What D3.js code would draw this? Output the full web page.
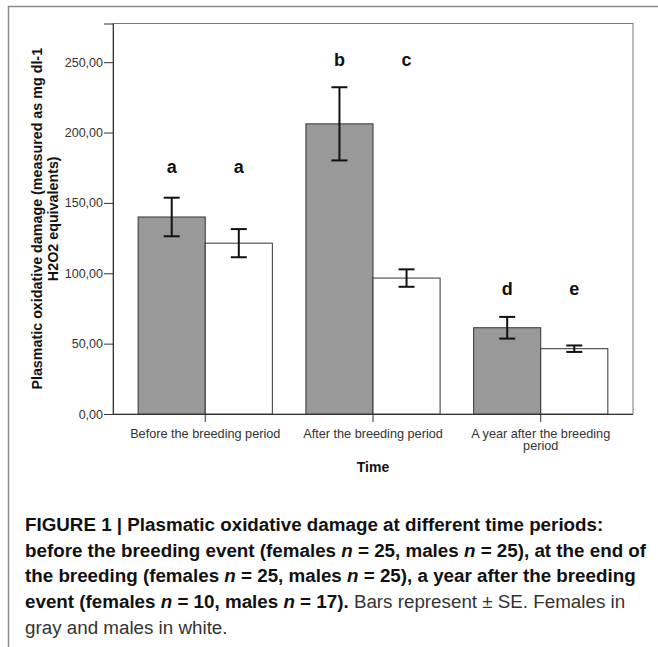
<!DOCTYPE html>
<html>
<head>
<meta charset="utf-8">
<script src="https://cdn.jsdelivr.net/npm/d3@7"></script>
<style>
  body { margin: 0; background: #fff; }
  svg { display: block; }
</style>
</head>
<body>
<script>
// data
var periods = ["Before the breeding period", "After the breeding period", "A year after the breeding period"];
var sexes = ["Females", "Males"];
var femaleMean = [140, 206.2, 61.3];
var femaleSE = [13.7, 26, 7.7];
var maleMean = [121.4, 96.6, 46.4];
var maleSE = [10, 6.2, 2.3];
var femaleLetters = ["a", "b", "d"];
var maleLetters = ["a", "c", "e"];
var letterLevel = [171, 247.4, 84.5];   // height of the letters, in y units
var yTicks = [0, 50, 100, 150, 200, 250];

var W = 658, H = 647;
var svg = d3.select("body").append("svg").attr("width", W).attr("height", H);

// outer figure frame (left + top only, the rest is cut off)
svg.append("path")
  .attr("d", "M8.5," + H + "V6.5H" + W)
  .attr("fill", "none").attr("stroke", "#8a8a8a").attr("stroke-width", 1.5);

var pLeft = 113, pRight = 633, pTop = 23.5, pBottom = 414;

var y = d3.scaleLinear().domain([0, 277.5]).range([pBottom, pTop]);
var x0 = d3.scaleBand().domain(periods).range([pLeft, pRight]).paddingInner(0.2).paddingOuter(0.15);
var x1 = d3.scaleBand().domain(sexes).range([0, x0.bandwidth()]);

// plot box
svg.append("rect")
  .attr("x", pLeft).attr("y", pTop).attr("width", pRight - pLeft).attr("height", pBottom - pTop)
  .attr("fill", "none").attr("stroke", "#777").attr("stroke-width", 1);

var rows = periods.map(function (p, i) {
  return [
    { period: p, sex: "Females", mean: femaleMean[i], se: femaleSE[i], letter: femaleLetters[i], lv: letterLevel[i] },
    { period: p, sex: "Males", mean: maleMean[i], se: maleSE[i], letter: maleLetters[i], lv: letterLevel[i] }
  ];
});
var flat = d3.merge(rows);

var g = svg.append("g");
g.selectAll("rect.bar").data(flat).enter().append("rect")
  .attr("class", "bar")
  .attr("x", function (d) { return x0(d.period) + x1(d.sex); })
  .attr("y", function (d) { return y(d.mean); })
  .attr("width", x1.bandwidth())
  .attr("height", function (d) { return y(0) - y(d.mean); })
  .attr("fill", function (d) { return d.sex == "Females" ? "#999999" : "#ffffff"; })
  .attr("stroke", "#333").attr("stroke-width", 1);

// error bars
var eb = g.selectAll("g.err").data(flat).enter().append("g").attr("class", "err")
  .attr("transform", function (d) { return "translate(" + (x0(d.period) + x1(d.sex) + x1.bandwidth() / 2) + ",0)"; });
eb.append("line")
  .attr("y1", function (d) { return y(d.mean + d.se); })
  .attr("y2", function (d) { return y(d.mean - d.se); });
eb.append("line").attr("x1", -8).attr("x2", 8)
  .attr("y1", function (d) { return y(d.mean + d.se); })
  .attr("y2", function (d) { return y(d.mean + d.se); });
eb.append("line").attr("x1", -8).attr("x2", 8)
  .attr("y1", function (d) { return y(d.mean - d.se); })
  .attr("y2", function (d) { return y(d.mean - d.se); });
eb.selectAll("line").attr("stroke", "#111").attr("stroke-width", 2);

// significance letters
g.selectAll("text.letter").data(flat).enter().append("text")
  .attr("class", "letter")
  .attr("x", function (d) { return x0(d.period) + x1(d.sex) + x1.bandwidth() / 2; })
  .attr("y", function (d) { return y(d.lv); })
  .attr("text-anchor", "middle")
  .style("font-family", "'Liberation Sans', Arial, sans-serif")
  .style("font-weight", "bold").style("font-size", "18px").attr("fill", "#111")
  .text(function (d) { return d.letter; });

// y axis
var yAxis = svg.append("g").attr("transform", "translate(" + pLeft + ",0)")
  .call(d3.axisLeft(y).tickValues(yTicks).tickSize(9).tickPadding(1)
    .tickFormat(function (d) { return d3.format(".2f")(d).replace(".", ","); }));
yAxis.select(".domain").attr("stroke", "#333");
yAxis.selectAll(".tick line").attr("stroke", "#333");
yAxis.selectAll(".tick text")
  .style("font-family", "'Liberation Sans', Arial, sans-serif").style("font-size", "12.5px").attr("fill", "#333");

// x axis
var xAxis = svg.append("g").attr("transform", "translate(0," + pBottom + ")")
  .call(d3.axisBottom(x0).tickSize(8).tickPadding(7).tickSizeOuter(0));
xAxis.select(".domain").attr("stroke", "#333").attr("d", "M" + pLeft + ",0.5H" + pRight);
xAxis.selectAll(".tick line").attr("stroke", "#333");
xAxis.selectAll(".tick text")
  .style("font-family", "'Liberation Sans', Arial, sans-serif").style("font-size", "12.7px").attr("fill", "#333")
  .each(function (d) {
    var t = d3.select(this), words = d.split(" "), line = [], lines = [];
    words.forEach(function (w) {
      var test = line.concat([w]).join(" ");
      if (line.length && test.length > 26) { lines.push(line.join(" ")); line = [w]; }
      else line.push(w);
    });
    lines.push(line.join(" "));
    t.text(null);
    lines.forEach(function (l, i) {
      t.append("tspan").attr("x", 0).attr("dy", i == 0 ? "0.71em" : "0.98em").text(l);
    });
  });

// axis titles
svg.append("text")
  .attr("x", (pLeft + pRight) / 2).attr("y", 472)
  .attr("text-anchor", "middle")
  .style("font-family", "'Liberation Sans', Arial, sans-serif").style("font-weight", "bold").style("font-size", "14px")
  .attr("fill", "#111").text("Time");

var yt = svg.append("text")
  .attr("transform", "translate(0," + ((pTop + pBottom) / 2) + ") rotate(-90)")
  .attr("text-anchor", "middle")
  .style("font-family", "'Liberation Sans', Arial, sans-serif").style("font-weight", "bold").style("font-size", "14.3px")
  .attr("fill", "#111");
yt.append("tspan").attr("x", 0).attr("y", 42).text("Plasmatic oxidative damage (measured as mg dl-1");
yt.append("tspan").attr("x", 0).attr("y", 57.5).text("H2O2 equivalents)");

// caption
var capLines = [
  [["b", "FIGURE 1 | Plasmatic oxidative damage at different time periods:"]],
  [["b", "before the breeding event (females "], ["bi", "n"], ["b", " = 25, males "], ["bi", "n"], ["b", " = 25), at the end of"]],
  [["b", "the breeding (females "], ["bi", "n"], ["b", " = 25, males "], ["bi", "n"], ["b", " = 25), a year after the breeding"]],
  [["b", "event (females "], ["bi", "n"], ["b", " = 10, males "], ["bi", "n"], ["b", " = 17)."], ["r", " Bars represent \u00b1 SE. Females in"]],
  [["r", "gray and males in white."]]
];
var cap = svg.append("g")
  .style("font-family", "'Liberation Sans Narrow', 'Arial Narrow', 'Liberation Sans', sans-serif")
  .style("font-size", "18.8px");
capLines.forEach(function (parts, i) {
  var t = cap.append("text").attr("x", 25).attr("y", 531 + i * 25.7);
  parts.forEach(function (p) {
    t.append("tspan")
      .style("font-weight", p[0] == "r" ? "normal" : "bold")
      .style("font-style", p[0] == "bi" ? "italic" : "normal")
      .attr("fill", p[0] == "r" ? "#333" : "#111")
      .text(p[1]);
  });
});
</script>
</body>
</html>
